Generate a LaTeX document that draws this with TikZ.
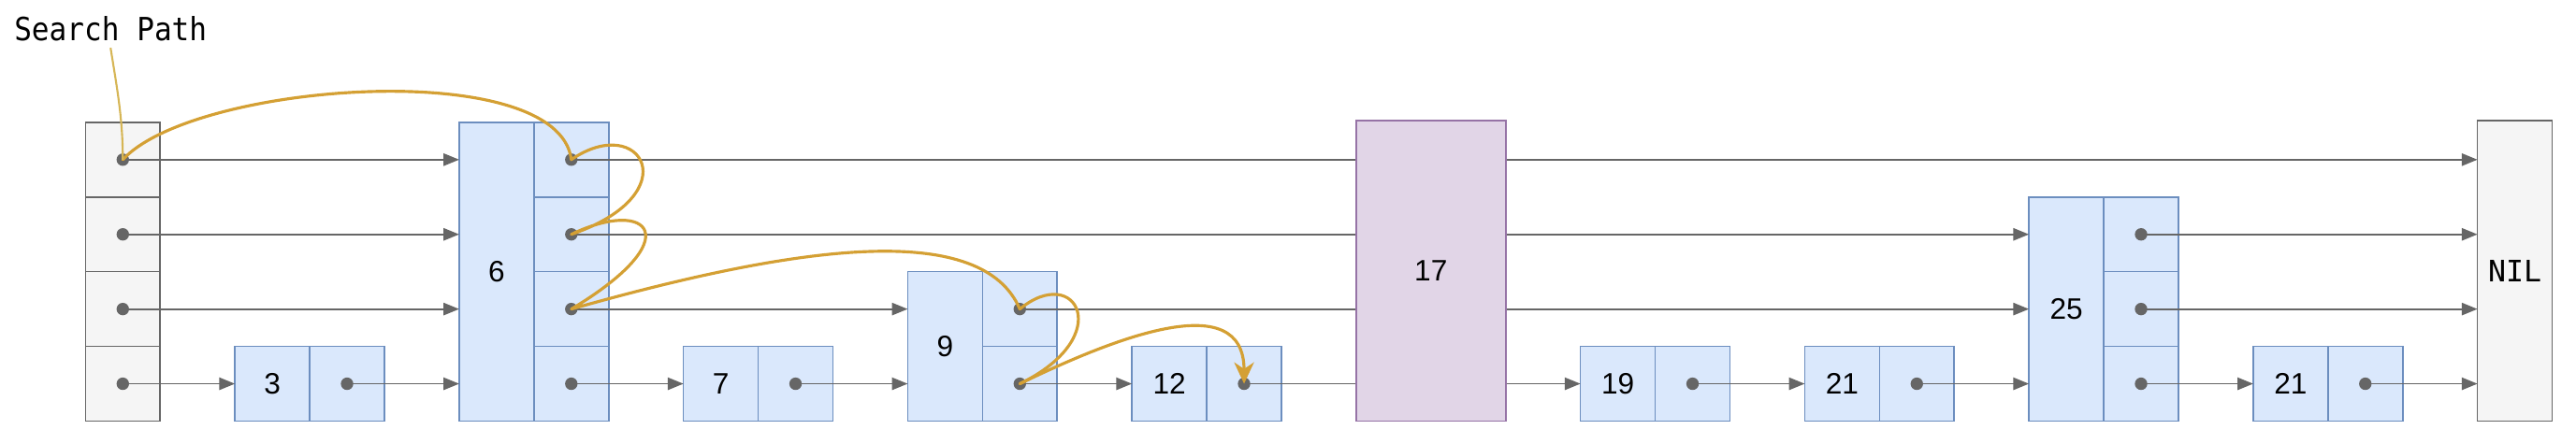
\documentclass[tikz,border=0pt]{standalone}
\usepackage{fontspec}
\setmainfont{Liberation Sans}
\newfontfamily\monof{DejaVu Sans Mono}
\usetikzlibrary{arrows.meta}
\definecolor{bfill}{HTML}{DAE8FC}
\definecolor{bline}{HTML}{6C8EBF}
\definecolor{pfill}{HTML}{E1D5E7}
\definecolor{pline}{HTML}{9673A6}
\definecolor{gfill}{HTML}{F5F5F5}
\definecolor{gline}{HTML}{666666}
\definecolor{spcol}{RGB}{212,160,52}
\definecolor{labcol}{HTML}{D6B656}
\begin{document}
\begin{tikzpicture}[x=1pt,y=-1pt,
  box/.style={draw, line width=0.9pt, inner sep=0pt, outer sep=0pt, anchor=north west,
    font=\fontsize{18}{18}\selectfont},
  bluebox/.style={box, draw=bline, fill=bfill, minimum width=45.5pt},
  graybox/.style={box, draw=gline, fill=gfill, minimum width=45.5pt},
  purplebox/.style={box, draw=pline, fill=pfill, minimum width=91pt},
  one/.style={minimum height=45.5pt},
  dotn/.style={circle, fill=gline, inner sep=0pt, minimum size=7.6pt},
  link/.style={draw=gline, line width=1pt, -{Triangle[length=9.5pt,width=7.5pt]}},
  spath/.style={draw=spcol, line width=1.8pt, line cap=round, line join=round},
  labline/.style={draw=labcol, line width=1.2pt}
]
\useasboundingbox (0,0) rectangle (1568,270);

% header
\node[graybox, one] (h1) at (52,74.5) {};
\node[graybox, one] (h2) at (52,120) {};
\node[graybox, one] (h3) at (52,165.5) {};
\node[graybox, one] (h4) at (52,211) {};
% node 3
\node[bluebox, one] (v3) at (143,211) {3};
\node[bluebox, one] (c3d) at (188.5,211) {};
% node 6
\node[bluebox, minimum height=182pt] (v6) at (279.5,74.5) {6};
\node[bluebox, one] (c6a) at (325,74.5) {};
\node[bluebox, one] (c6b) at (325,120) {};
\node[bluebox, one] (c6c) at (325,165.5) {};
\node[bluebox, one] (c6d) at (325,211) {};
% node 7
\node[bluebox, one] (v7) at (416,211) {7};
\node[bluebox, one] (c7d) at (461.5,211) {};
% node 9
\node[bluebox, minimum height=91pt] (v9) at (552.5,165.5) {9};
\node[bluebox, one] (c9c) at (598,165.5) {};
\node[bluebox, one] (c9d) at (598,211) {};
% node 12
\node[bluebox, one] (v12) at (689,211) {12};
\node[bluebox, one] (c12d) at (734.5,211) {};
% node 19
\node[bluebox, one] (v19) at (962,211) {19};
\node[bluebox, one] (c19d) at (1007.5,211) {};
% node 21
\node[bluebox, one] (v21) at (1098.5,211) {21};
\node[bluebox, one] (c21d) at (1144,211) {};
% node 25
\node[bluebox, minimum height=136.5pt] (v25) at (1235,120) {25};
\node[bluebox, one] (c25b) at (1280.5,120) {};
\node[bluebox, one] (c25c) at (1280.5,165.5) {};
\node[bluebox, one] (c25d) at (1280.5,211) {};
% node 21 (second)
\node[bluebox, one] (v21b) at (1371.5,211) {21};
\node[bluebox, one] (c21bd) at (1417,211) {};
% NIL
\node[graybox, minimum height=183pt] (nil) at (1508,73.5) {\monof NIL};

% dots
\foreach \n in {h1,h2,h3,h4,c3d,c6a,c6b,c6c,c6d,c7d,c9c,c9d,c12d,c19d,c21d,c25b,c25c,c25d,c21bd}
  \node[dotn] (d\n) at (\n.center) {};

% links
\draw[link] (dh1.center) -- (dh1 -| v6.west);
\draw[link] (dc6a.center) -- (dc6a -| nil.west);
\draw[link] (dh2.center) -- (dh2 -| v6.west);
\draw[link] (dc6b.center) -- (dc6b -| v25.west);
\draw[link] (dc25b.center) -- (dc25b -| nil.west);
\draw[link] (dh3.center) -- (dh3 -| v6.west);
\draw[link] (dc6c.center) -- (dc6c -| v9.west);
\draw[link] (dc9c.center) -- (dc9c -| v25.west);
\draw[link] (dc25c.center) -- (dc25c -| nil.west);
\draw[link] (dh4.center) -- (dh4 -| v3.west);
\draw[link] (dc3d.center) -- (dc3d -| v6.west);
\draw[link] (dc6d.center) -- (dc6d -| v7.west);
\draw[link] (dc7d.center) -- (dc7d -| v9.west);
\draw[link] (dc9d.center) -- (dc9d -| v12.west);
\draw[link] (dc12d.center) -- (dc12d -| v19.west);
\draw[link] (dc19d.center) -- (dc19d -| v21.west);
\draw[link] (dc21d.center) -- (dc21d -| v25.west);
\draw[link] (dc25d.center) -- (dc25d -| v21b.west);
\draw[link] (dc21bd.center) -- (dc21bd -| nil.west);

% node 17 on top of the links
\node[purplebox, minimum height=183pt] (v17) at (825.5,73.5) {17};

% search path
\draw[spath] (dh1.center) .. controls +(43.25,-47.25) and +(-7.75,-63.25) .. (dc6a.center)
  .. controls +(42.25,-29.25) and +(72.25,-24.75) .. (dc6b.center)
  .. controls +(47.25,-22.75) and +(72.25,-43.25) .. (dc6c.center)
  .. controls +(142.25,-40.25) and +(-22.75,-53.25) .. (dc9c.center)
  .. controls +(34.25,-28.25) and +(59.25,-28.75) .. (dc9d.center);
\draw[spath, -{Stealth[length=13pt,width=12pt,inset=4pt]}] (dc9d.center)
  .. controls +(59.25,-28.75) and +(0,-58.75) .. (dc12d.center);

% label
\node[anchor=base west, inner xsep=0pt, inner ysep=4pt, font=\monof\fontsize{17.7}{18}\selectfont]
  (sp) at (8.5,24.7) {\scalebox{1}[1.1]{Search Path}};
\draw[labline] (sp.south) .. controls +(4,25) and +(0,-25) .. (dh1.center);
\end{tikzpicture}
\end{document}
